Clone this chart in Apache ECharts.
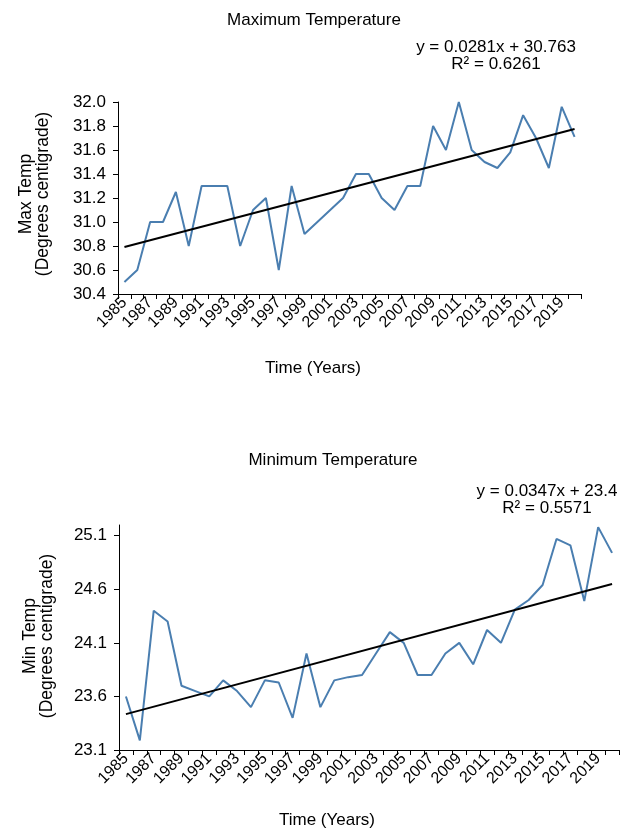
<!DOCTYPE html>
<html><head><meta charset="utf-8">
<script src="https://cdn.jsdelivr.net/npm/echarts@6/dist/echarts.min.js"></script>
<style>html,body{margin:0;padding:0;background:#fff}#c{width:629px;height:828px}</style>
</head><body><div id="c"></div>
<script>
const years = ['1985','1986','1987','1988','1989','1990','1991','1992','1993','1994','1995','1996','1997','1998','1999','2000','2001','2002','2003','2004','2005','2006','2007','2008','2009','2010','2011','2012','2013','2014','2015','2016','2017','2018','2019','2020'];
const maxTemp = [30.5,30.6,31.0,31.0,31.25,30.8,31.3,31.3,31.3,30.8,31.1,31.2,30.6,31.3,30.9,31.0,31.1,31.2,31.4,31.4,31.2,31.1,31.3,31.3,31.8,31.6,32.0,31.6,31.5,31.45,31.58,31.89,31.7,31.45,31.96,31.71];
const minTemp = [23.6,23.19,24.4,24.3,23.7,23.65,23.6,23.75,23.65,23.5,23.75,23.73,23.4,24.0,23.5,23.75,23.78,23.8,24.0,24.2,24.1,23.8,23.8,24.0,24.1,23.9,24.22,24.1,24.41,24.5,24.64,25.07,25.01,24.49,25.18,24.94];
const maxTrend = [30.791, 31.775];
const minTrend = [23.435, 24.649];
const maxTicks = [30.4,30.6,30.8,31.0,31.2,31.4,31.6,31.8,32.0];
const minTicks = [23.1,23.6,24.1,24.6,25.1];

const FONT = 'Liberation Sans, Arial, sans-serif';
const chart = echarts.init(document.getElementById('c'), null, {renderer:'canvas'});

function xAxisCfg(gi){
  return {
    type:'category', gridIndex:gi, data:years, boundaryGap:true,
    axisLine:{lineStyle:{color:'#000',width:1}},
    axisTick:{show:true, interval:0, length:5, lineStyle:{color:'#000'}},
    axisLabel:{interval:1, rotate:45, fontSize:16, color:'#000', fontFamily:FONT, margin:6},
    splitLine:{show:false}
  };
}
function yAxisCfg(gi, mn, mx, ticks){
  return {
    type:'value', gridIndex:gi, min:mn, max:mx,
    axisLine:{show:true, lineStyle:{color:'#000',width:1}},
    axisTick:{show:true, length:5, customValues:ticks, lineStyle:{color:'#000'}},
    axisLabel:{customValues:ticks, fontSize:17, color:'#000', fontFamily:FONT, margin:12,
      formatter:v=>Number(v).toFixed(1)},
    splitLine:{show:false}
  };
}
function trendLine(t){
  return {
    silent:true, symbol:'none', animation:false,
    lineStyle:{color:'#000', width:2, type:'solid'},
    label:{show:false},
    data:[[{coord:[years[0], t[0]]},{coord:[years[years.length-1], t[1]]}]]
  };
}
function txt(x,y,text,size,rot){
  const o = {type:'text', x:x, y:y,
    style:{text:text, fontSize:size, fontFamily:FONT, fill:'#000', textAlign:'center', textVerticalAlign:'middle', lineHeight:17}};
  if (rot) o.rotation = rot;
  return o;
}

chart.setOption({
  animation:false,
  backgroundColor:'#fff',
  grid:[
    {left:118, top:102, width:463, height:192},
    {left:119, top:525, width:500, height:225}
  ],
  xAxis:[xAxisCfg(0), xAxisCfg(1)],
  yAxis:[yAxisCfg(0,30.4,32.0,maxTicks), yAxisCfg(1,23.1,25.2,minTicks)],
  series:[
    {type:'line', xAxisIndex:0, yAxisIndex:0, data:maxTemp, symbol:'none',
     lineStyle:{color:'#4a7eb0', width:2}, markLine:trendLine(maxTrend)},
    {type:'line', xAxisIndex:1, yAxisIndex:1, data:minTemp, symbol:'none',
     lineStyle:{color:'#4a7eb0', width:2}, markLine:trendLine(minTrend)}
  ],
  graphic:[
    txt(314,20,'Maximum Temperature',17),
    txt(496,56,'y = 0.0281x + 30.763\nR² = 0.6261',17),
    txt(313,368,'Time (Years)',17),
    txt(35,194,'Max Temp\n(Degrees centigrade)',17.5,Math.PI/2),
    txt(333,460,'Minimum Temperature',17),
    txt(547,500,'y = 0.0347x + 23.4\nR² = 0.5571',17),
    txt(327,820,'Time (Years)',17),
    txt(39,636,'Min Temp\n(Degrees centigrade)',17.5,Math.PI/2)
  ]
});
</script></body></html>
